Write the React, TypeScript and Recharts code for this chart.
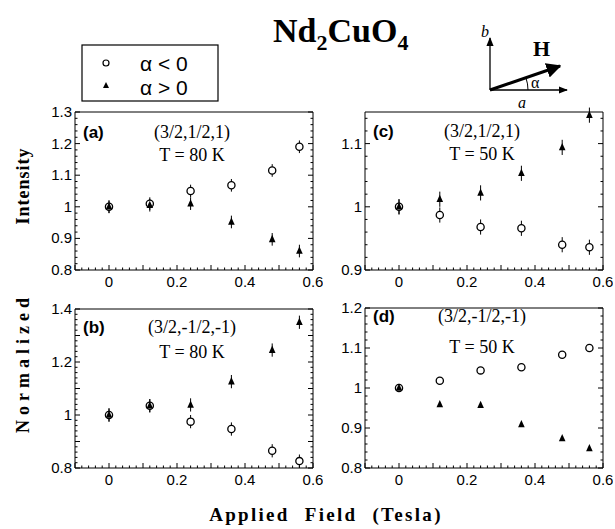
import { ScatterChart, Scatter, XAxis, YAxis, ErrorBar } from 'recharts';

// applied field (Tesla) at which each point was measured
const fieldT = [0, 0.12, 0.24, 0.36, 0.48, 0.56];

// (a) (3/2,1/2,1) T = 80 K
const aNeg = [1.0, 1.01, 1.05, 1.068, 1.115, 1.19];
const aPos = [1.0, 1.005, 1.01, 0.952, 0.897, 0.86];
// (c) (3/2,1/2,1) T = 50 K
const cNeg = [1.0, 0.987, 0.968, 0.966, 0.94, 0.936];
const cPos = [1.0, 1.012, 1.022, 1.053, 1.094, 1.145];
// (b) (3/2,-1/2,-1) T = 80 K
const bNeg = [1.0, 1.035, 0.975, 0.947, 0.865, 0.826];
const bPos = [1.0, 1.035, 1.038, 1.126, 1.245, 1.35];
// (d) (3/2,-1/2,-1) T = 50 K
const dNeg = [1.0, 1.018, 1.044, 1.052, 1.083, 1.1];
const dPos = [1.0, 0.959, 0.957, 0.909, 0.874, 0.849];

// error bar half-heights per panel
const aErr = 0.02;
const cErr = 0.012;
const bErr = 0.025;
const dErr = 0.006;

const xTickLabels = [0, 0.2, 0.4, 0.6];
const aTickLabels = [0.8, 0.9, 1, 1.1, 1.2, 1.3];
const cTickLabels = [0.9, 1, 1.1];
const bTickLabels = [0.8, 1, 1.2, 1.4];
const dTickLabels = [0.8, 0.9, 1, 1.1, 1.2];

const SANS = '"Liberation Sans", Arial, sans-serif';
const SERIF = '"Liberation Serif", "Times New Roman", serif';

const near = (a: number, b: number) => Math.abs(a - b) < 1e-6;
const isMajor = (v: number) => near(v * 10, Math.round(v * 10));
const fmt = (v: number) => (near(v, 1) ? '1' : String(Math.round(v * 100) / 100));

// minor tick positions every 0.02 over a domain
const minorTicks = (lo: number, hi: number) => {
  const out: number[] = [];
  for (let k = Math.round(lo * 50); k <= Math.round(hi * 50); k++) out.push(k / 50);
  return out;
};

const makeTick = (side: 'bottom' | 'top' | 'left' | 'right', labels: number[]) => (p: any) => {
  const { x, y, payload } = p;
  const v = payload.value as number;
  const len = isMajor(v) ? 5 : 2.5;
  const lab = labels.some((l) => near(l, v));
  if (side === 'bottom')
    return (
      <g>
        <line x1={x} y1={y} x2={x} y2={y - len} stroke="#000" strokeWidth={1} />
        {lab && (
          <text x={x} y={y + 17} textAnchor="middle" fontFamily={SANS} fontSize={15} fill="#000">
            {fmt(v)}
          </text>
        )}
      </g>
    );
  if (side === 'top') return <line x1={x} y1={y} x2={x} y2={y + len} stroke="#000" strokeWidth={1} />;
  if (side === 'right') return <line x1={x} y1={y} x2={x - len} y2={y} stroke="#000" strokeWidth={1} />;
  return (
    <g>
      <line x1={x} y1={y} x2={x + len} y2={y} stroke="#000" strokeWidth={1} />
      {lab && (
        <text x={x - 3} y={y + 5} textAnchor="end" fontFamily={SANS} fontSize={15} fill="#000">
          {fmt(v)}
        </text>
      )}
    </g>
  );
};

const OpenCircle = (p: any) => (
  <circle cx={p.cx} cy={p.cy} r={3.6} fill="#fff" stroke="#000" strokeWidth={1.3} />
);
const FilledTri = (p: any) => (
  <polygon
    points={`${p.cx},${p.cy - 4.5} ${p.cx - 3.3},${p.cy + 2.8} ${p.cx + 3.3},${p.cy + 2.8}`}
    fill="#000"
  />
);

type PanelProps = {
  left: number;
  top: number;
  w: number;
  h: number;
  yDomain: [number, number];
  yLabels: number[];
  neg: number[];
  pos: number[];
  err: number;
};

const axisLine = { stroke: '#000', strokeWidth: 1 };

const Panel = ({ left, top, w, h, yDomain, yLabels, neg, pos, err }: PanelProps) => {
  const negData = fieldT.map((f, i) => ({ x: f, y: neg[i], err }));
  const posData = fieldT.map((f, i) => ({ x: f, y: pos[i], err }));
  const xt = minorTicks(-0.1, 0.6);
  const yt = minorTicks(yDomain[0], yDomain[1]);
  // each axis takes 1px, so the margins are 1px smaller than the space around the plot
  return (
    <div style={{ position: 'absolute', left: left - 40, top: top - 10 }}>
      <ScatterChart width={w + 50} height={h + 40} margin={{ top: 9, right: 9, bottom: 29, left: 39 }}>
        <XAxis
          xAxisId="b"
          dataKey="x"
          type="number"
          domain={[-0.1, 0.6]}
          ticks={xt}
          interval={0}
          height={1}
          tickSize={0}
          tickMargin={0}
          tick={makeTick('bottom', xTickLabels)}
          axisLine={axisLine}
          allowDataOverflow
        />
        <XAxis
          xAxisId="t"
          orientation="top"
          type="number"
          domain={[-0.1, 0.6]}
          ticks={xt}
          interval={0}
          height={1}
          tickSize={0}
          tickMargin={0}
          tick={makeTick('top', [])}
          axisLine={axisLine}
          allowDataOverflow
        />
        <YAxis
          yAxisId="l"
          dataKey="y"
          type="number"
          domain={yDomain}
          ticks={yt}
          interval={0}
          width={1}
          tickSize={0}
          tickMargin={0}
          tick={makeTick('left', yLabels)}
          axisLine={axisLine}
          allowDataOverflow
        />
        <YAxis
          yAxisId="r"
          orientation="right"
          type="number"
          domain={yDomain}
          ticks={yt}
          interval={0}
          width={1}
          tickSize={0}
          tickMargin={0}
          tick={makeTick('right', [])}
          axisLine={axisLine}
          allowDataOverflow
        />
        <Scatter xAxisId="b" yAxisId="l" data={negData} shape={OpenCircle} isAnimationActive={false}>
          <ErrorBar dataKey="err" direction="y" width={0} stroke="#000" strokeWidth={1} />
        </Scatter>
        <Scatter xAxisId="b" yAxisId="l" data={posData} shape={FilledTri} isAnimationActive={false}>
          <ErrorBar dataKey="err" direction="y" width={0} stroke="#000" strokeWidth={1} />
        </Scatter>
      </ScatterChart>
    </div>
  );
};

const PanelText = ({ x, y1, y2, tag, hkl, temp }: any) => (
  <g>
    <text x={x + 8} y={y1} fontFamily={SANS} fontWeight="bold" fontSize={17}>
      {tag}
    </text>
    <text x={x + 117} y={y1} textAnchor="middle" fontFamily={SERIF} fontSize={18}>
      {hkl}
    </text>
    <text x={x + 117} y={y2} textAnchor="middle" fontFamily={SERIF} fontSize={18}>
      {temp}
    </text>
  </g>
);

export default function App() {
  return (
    <div style={{ position: 'absolute', left: 0, top: 0, width: 615, height: 529, background: '#fff' }}>
      <Panel left={75} top={112} w={238} h={158} yDomain={[0.8, 1.3]} yLabels={aTickLabels} neg={aNeg} pos={aPos} err={aErr} />
      <Panel left={365} top={112} w={238} h={158} yDomain={[0.9, 1.15]} yLabels={cTickLabels} neg={cNeg} pos={cPos} err={cErr} />
      <Panel left={75} top={309} w={238} h={159} yDomain={[0.8, 1.4]} yLabels={bTickLabels} neg={bNeg} pos={bPos} err={bErr} />
      <Panel left={365} top={308} w={238} h={160} yDomain={[0.8, 1.2]} yLabels={dTickLabels} neg={dNeg} pos={dPos} err={dErr} />
      <svg width={615} height={529} style={{ position: 'absolute', left: 0, top: 0, pointerEvents: 'none' }}>
        <defs>
          <marker id="ah" viewBox="0 0 10 10" refX="9" refY="5" markerWidth="7" markerHeight="7" orient="auto">
            <path d="M0,1 L10,5 L0,9 z" fill="#000" />
          </marker>
          <marker id="ahH" viewBox="0 0 10 10" refX="9" refY="5" markerWidth="5" markerHeight="5" orient="auto">
            <path d="M0,0 L10,5 L0,10 z" fill="#000" />
          </marker>
        </defs>
        {/* title */}
        <text x={273} y={42} fontFamily={SERIF} fontWeight="bold" fontSize={34}>
          Nd<tspan fontSize={22} dy={8}>2</tspan>
          <tspan dy={-8}>CuO</tspan>
          <tspan fontSize={22} dy={8}>4</tspan>
        </text>
        {/* legend */}
        <rect x={82} y={45} width={136} height={56} fill="#fff" stroke="#000" strokeWidth={1.2} />
        <circle cx={106} cy={63} r={3} fill="#fff" stroke="#000" strokeWidth={1.2} />
        <text x={140} y={71} fontFamily={SANS} fontSize={21}>α &lt; 0</text>
        <polygon points="106,82 103,88 109,88" fill="#000" />
        <text x={140} y={95} fontFamily={SANS} fontSize={21}>α &gt; 0</text>
        {/* field direction inset */}
        <line x1={490} y1={90} x2={490} y2={38} stroke="#000" strokeWidth={1.3} markerEnd="url(#ah)" />
        <line x1={490} y1={90} x2={567} y2={90} stroke="#000" strokeWidth={1.3} markerEnd="url(#ah)" />
        <line x1={490} y1={90} x2={560} y2={66} stroke="#000" strokeWidth={3} markerEnd="url(#ahH)" />
        <path d="M528,90 A38,38 0 0 0 526,78" fill="none" stroke="#000" strokeWidth={1} />
        <text x={481} y={37} fontFamily={SERIF} fontStyle="italic" fontSize={16}>b</text>
        <text x={518} y={108} fontFamily={SERIF} fontStyle="italic" fontSize={16}>a</text>
        <text x={533} y={56} fontFamily={SERIF} fontWeight="bold" fontSize={22}>H</text>
        <text x={531} y={88} fontFamily={SERIF} fontSize={16}>α</text>
        {/* panel annotations */}
        <PanelText x={75} y1={138} y2={161} tag="(a)" hkl="(3/2,1/2,1)" temp="T = 80 K" />
        <PanelText x={365} y1={137} y2={160} tag="(c)" hkl="(3/2,1/2,1)" temp="T = 50 K" />
        <PanelText x={75} y1={333} y2={358} tag="(b)" hkl="(3/2,-1/2,-1)" temp="T = 80 K" />
        <PanelText x={365} y1={322} y2={353} tag="(d)" hkl="(3/2,-1/2,-1)" temp="T = 50 K" />
        {/* axis titles */}
        <text transform="translate(29,186) rotate(-90)" textAnchor="middle" fontFamily={SERIF} fontWeight="bold" fontSize={18} letterSpacing={1}>
          Intensity
        </text>
        <text transform="translate(29,363) rotate(-90)" textAnchor="middle" fontFamily={SERIF} fontWeight="bold" fontSize={18} letterSpacing={5}>
          Normalized
        </text>
        <text x={326} y={521} textAnchor="middle" fontFamily={SERIF} fontWeight="bold" fontSize={19} letterSpacing={2.3} wordSpacing={8}>
          Applied Field (Tesla)
        </text>
      </svg>
    </div>
  );
}
